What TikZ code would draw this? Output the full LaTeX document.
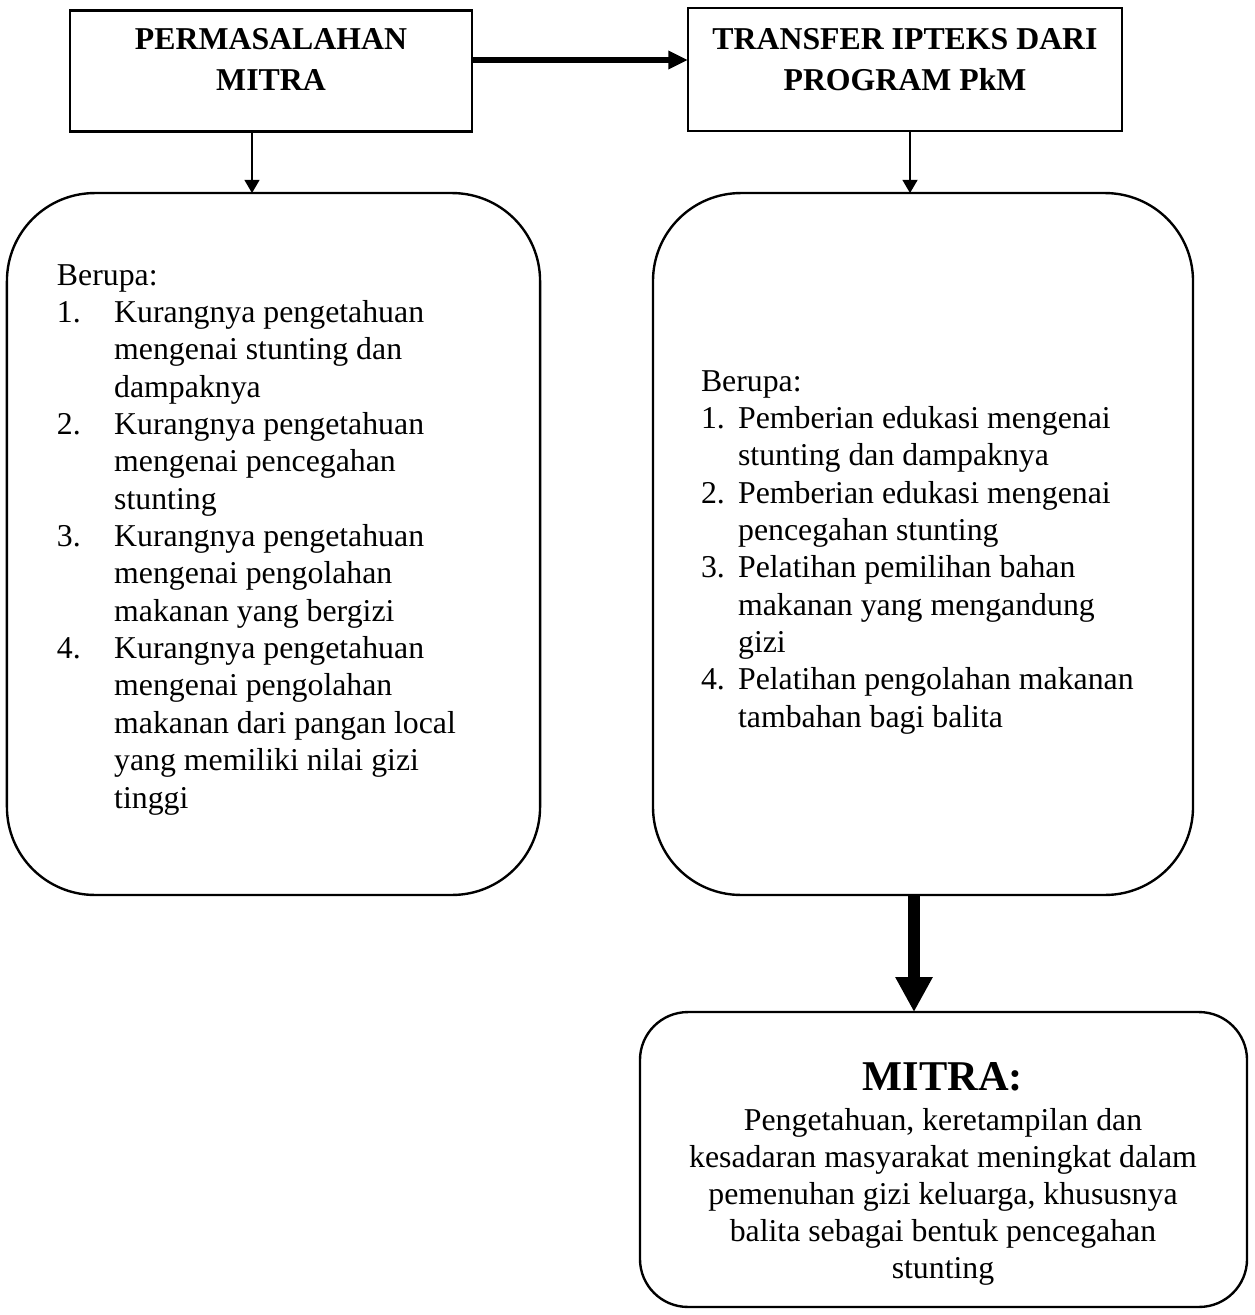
\documentclass[tikz,border=0pt]{standalone}
\usepackage{fontspec}
\setmainfont{Liberation Serif}
\usetikzlibrary{arrows.meta}
\newcommand\bodyfnt{\fontsize{12}{14.1}\selectfont}
\newcommand\midfnt{\fontsize{12}{14}\selectfont}
\newcommand\headfnt{\fontsize{12}{15.1}\selectfont\bfseries}
\begin{document}
\begin{tikzpicture}[x=0.3774pt,y=-0.3774pt,
  hbox/.style={draw,line width=1.1pt,inner sep=0pt,outer sep=0pt},
  rndbox/.style={draw,line width=0.9pt,inner sep=0pt,outer sep=0pt},
  txt/.style={inner sep=0pt,outer sep=0pt},
  thinarr/.style={line width=0.55pt,-{Triangle[length=5pt,width=5.7pt]}},
  thickh/.style={line width=2.6pt,-{Triangle[length=7.4pt,width=6.6pt]}},
  thickv/.style={line width=4.5pt,-{Triangle[length=13.2pt,width=13.2pt]}}]
\useasboundingbox[fill=white] (0,0) rectangle (1255,1315);

% boxes
\node[hbox,minimum width=151.7pt,minimum height=46.0pt] (box1) at (271,71) {};
\node[hbox,minimum width=163.8pt,minimum height=46.4pt] (box2) at (905,69.5) {};
\node[rndbox,rounded corners=33.2pt,minimum width=201.2pt,minimum height=264.9pt] (lbox) at (273.5,544) {};
\node[rndbox,rounded corners=33.2pt,minimum width=203.8pt,minimum height=264.9pt] (rbox) at (923,544) {};
\node[rndbox,rounded corners=18.1pt,minimum width=229.1pt,minimum height=111.3pt] (mbox) at (943.5,1159.5) {};

% heading texts
\node[txt,anchor=base] (t1) at (271,50) {\headfnt\begin{tabular}[t]{@{}c@{}}PERMASALAHAN\\MITRA\end{tabular}};
\node[txt,anchor=base] (t2) at (905,50) {\headfnt\begin{tabular}[t]{@{}c@{}}TRANSFER IPTEKS DARI\\PROGRAM PkM\end{tabular}};

% left list
\node[txt,anchor=base west] (ltext) at (57,285) {\bodyfnt\begin{tabular}[t]{@{}p{21.6pt}@{}l@{}}
\multicolumn{2}{@{}l@{}}{Berupa:}\\
1.&Kurangnya pengetahuan\\
&mengenai stunting dan\\
&dampaknya\\
2.&Kurangnya pengetahuan\\
&mengenai pencegahan\\
&stunting\\
3.&Kurangnya pengetahuan\\
&mengenai pengolahan\\
&makanan yang bergizi\\
4.&Kurangnya pengetahuan\\
&mengenai pengolahan\\
&makanan dari pangan local\\
&yang memiliki nilai gizi\\
&tinggi
\end{tabular}};

% right list
\node[txt,anchor=base west] (rtext) at (701,391) {\bodyfnt\begin{tabular}[t]{@{}p{14pt}@{}l@{}}
\multicolumn{2}{@{}l@{}}{Berupa:}\\
1.&Pemberian edukasi mengenai\\
&stunting dan dampaknya\\
2.&Pemberian edukasi mengenai\\
&pencegahan stunting\\
3.&Pelatihan pemilihan bahan\\
&makanan yang mengandung\\
&gizi\\
4.&Pelatihan pengolahan makanan\\
&tambahan bagi balita
\end{tabular}};

% bottom box texts
\node[txt,anchor=base] (mtitle) at (943,1090) {\fontsize{16}{18}\selectfont\bfseries MITRA:};
\node[txt,anchor=base] (mtext) at (943,1130) {\midfnt\begin{tabular}[t]{@{}c@{}}
Pengetahuan, keretampilan dan\\
kesadaran masyarakat meningkat dalam\\
pemenuhan gizi keluarga, khususnya\\
balita sebagai bentuk pencegahan\\
stunting
\end{tabular}};

% connectors
\coordinate (ax1) at (252,0);
\coordinate (ax2) at (910,0);
\coordinate (ax3) at (914,0);
\coordinate (ay) at (0,60);
\draw[thickh] (box1.east |- ay) -- (box2.west |- ay);
\draw[thinarr] (box1.south -| ax1) -- (lbox.north -| ax1);
\draw[thinarr] (box2.south -| ax2) -- (rbox.north -| ax2);
\draw[thickv] (rbox.south -| ax3) -- (mbox.north -| ax3);
\end{tikzpicture}
\end{document}
